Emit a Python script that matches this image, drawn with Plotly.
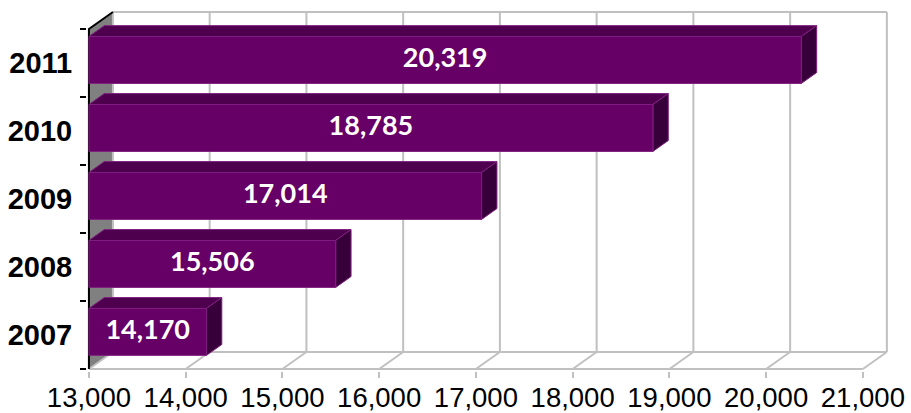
import plotly.graph_objects as go

years = ["2007", "2008", "2009", "2010", "2011"]
values = [14170, 15506, 17014, 18785, 20319]
x_ticks = [13000, 14000, 15000, 16000, 17000, 18000, 19000, 20000, 21000]
x_ticktext = ["13,000", "14,000", "15,000", "16,000", "17,000", "18,000", "19,000", "20,000", "21,000"]

XMIN, XMAX = 13000, 21000
DX, DY = 248, 0.25          # oblique depth offset (value units, category units)
D0, D1 = 0.18, 0.82         # bar depth span (fraction of full depth)
H = 0.69                    # bar thickness (category units)

FRONT = "#660066"
TOP = "#4E004E"
SIDE = "#38003A"
EDGE = "#7E1E7E"
GRID = "#C0C0C0"

fig = go.Figure()

def poly(xs, ys, fill, line_color=None, width=0):
    fig.add_trace(go.Scatter(
        x=xs + [xs[0]], y=ys + [ys[0]], mode="lines", fill="toself",
        fillcolor=fill, line=dict(color=line_color or fill, width=width),
        hoverinfo="skip", showlegend=False))

def line(xs, ys, color, width=2):
    fig.add_trace(go.Scatter(x=xs, y=ys, mode="lines", line=dict(color=color, width=width),
                             hoverinfo="skip", showlegend=False))

n = len(years)
ylo, yhi = -0.5, n - 0.5

# left wall (gray)
poly([XMIN, XMIN + DX, XMIN + DX, XMIN], [ylo, ylo + DY, yhi + DY, yhi], "#808080")

# back wall grid + floor
for v in x_ticks:
    line([v + DX, v + DX], [ylo + DY, yhi + DY], GRID)
    line([v, v + DX], [ylo, ylo + DY], GRID)
line([XMIN + DX, XMAX + DX], [yhi + DY, yhi + DY], GRID)
line([XMIN + DX, XMAX + DX], [ylo + DY, ylo + DY], GRID)
line([XMIN, XMAX], [ylo, ylo], GRID)

# front axis line (black) and top diagonal
line([XMIN, XMIN, XMIN + DX], [ylo, yhi, yhi + DY], "black", 2)

# bars, top to bottom
lab_x, lab_y, lab_t = [], [], []
for i in reversed(range(n)):
    v = values[i]
    x0 = XMIN
    xr = v + D0 * DX
    yb = i - H / 2 + D0 * DY
    yt = i + H / 2 + D0 * DY
    ddx = (D1 - D0) * DX
    ddy = (D1 - D0) * DY
    poly([x0, xr, xr + ddx, x0 + ddx], [yt, yt, yt + ddy, yt + ddy], TOP, EDGE, 1)
    poly([xr, xr + ddx, xr + ddx, xr], [yb, yb + ddy, yt + ddy, yt], SIDE, EDGE, 1)
    poly([x0, xr, xr, x0], [yb, yb, yt, yt], FRONT, EDGE, 1)
    lab_x.append((x0 + xr) / 2)
    lab_y.append((yb + yt) / 2)
    lab_t.append(f"{v:,}")

fig.add_trace(go.Scatter(
    x=lab_x, y=lab_y, text=lab_t, mode="text",
    textfont=dict(family="Lato", size=27, color="white", weight="bold"),
    textposition="middle center", hoverinfo="skip", showlegend=False, cliponaxis=False))

# invisible trace for yaxis2 to exist
fig.add_trace(go.Scatter(x=[XMIN], y=[0], mode="markers", marker=dict(opacity=0),
                         yaxis="y2", hoverinfo="skip", showlegend=False))

fig.update_layout(
    width=911, height=413,
    margin=dict(l=87, r=22, t=10, b=42, autoexpand=False),
    paper_bgcolor="white", plot_bgcolor="white",
    xaxis=dict(range=[12980, 21270], tickvals=x_ticks, ticktext=x_ticktext,
               showgrid=False, zeroline=False, showline=False,
               ticks="outside", ticklen=6, tickwidth=2, tickcolor=GRID,
               ticklabelstandoff=-4,
               tickfont=dict(family="Liberation Sans", size=27.5, color="black"),
               automargin=False),
    yaxis=dict(range=[-0.53, 4.78], tickvals=list(range(n)), ticktext=years,
               showgrid=False, zeroline=False, showline=False,
               ticks="outside", ticklen=8, tickcolor="rgba(0,0,0,0)",
               tickfont=dict(family="Liberation Sans", size=29, color="black", weight="bold"),
               automargin=False),
    yaxis2=dict(range=[-0.53, 4.78], overlaying="y", side="left",
                tickvals=[k - 0.5 for k in range(n + 1)], showticklabels=False,
                showgrid=False, zeroline=False, showline=False,
                ticks="outside", ticklen=6, tickwidth=2, tickcolor="black"),
)

fig.write_html("out.html", config={"displayModeBar": False},
               post_script="document.body.style.margin='0';document.body.style.overflow='hidden';")
